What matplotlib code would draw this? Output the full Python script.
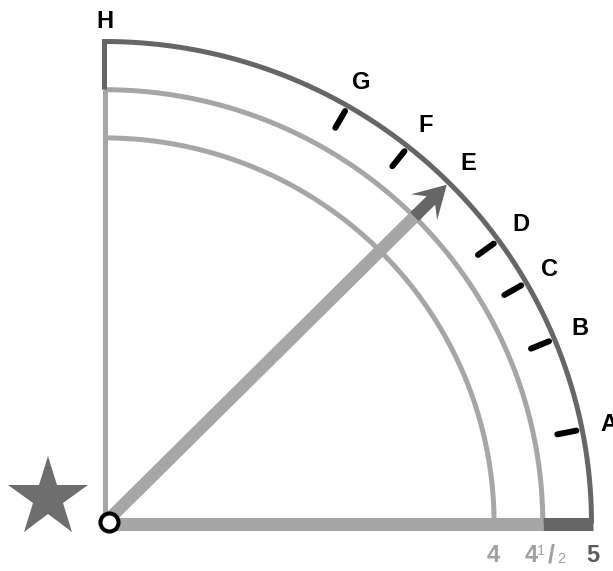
import numpy as np
import matplotlib
matplotlib.use("Agg")
import matplotlib.pyplot as plt
from matplotlib.patches import FancyArrow

# ---- data ----
labels = ["A", "B", "C", "D", "E", "F", "G", "H"]
angles_deg = [11.25, 22.5, 30.0, 36.0, 45.0, 51.43, 60.0, 90.0]
tick_labels = ["A", "B", "C", "D", "F", "G"]   # letters that carry a tick mark
radii_inner = [4.0, 4.5]
radius_outer = 5.0
arrow_angle = 45.0
arrow_len = 4.97
axis_values = [4.0, 4.5, 5.0]

LIGHT = "#a6a6a6"
DARK = "#666666"
FONT = "Liberation Sans"

fig = plt.figure(figsize=(6.13, 5.71), dpi=100)
ax = fig.add_axes([0, 0, 1, 1])
ax.set_xlim(-104.5 / 97.4, (613 - 104.5) / 97.4)
ax.set_ylim(-(571 - 523.5) / 96.4, 523.5 / 96.4)
ax.axis("off")

# inner arcs
th = np.linspace(0, np.pi / 2, 300)
for r in radii_inner:
    ax.plot(r * np.cos(th), r * np.sin(th), color=LIGHT, lw=3.6,
            solid_capstyle="butt", zorder=2)

# vertical light axis
ax.plot([0, 0], [0, 4.5], color=LIGHT, lw=3.6, solid_capstyle="butt", zorder=2)

# dark outer frame: vertical piece + outer arc
th2 = np.linspace(np.pi / 2, 0, 400)
xs = np.concatenate([[0, 0], radius_outer * np.cos(th2)])
ys = np.concatenate([[4.5, radius_outer], radius_outer * np.sin(th2)])
ax.plot(xs, ys, color=DARK, lw=3.6, solid_joinstyle="miter",
        solid_capstyle="butt", zorder=3)

# horizontal bar
ax.plot([0, 4.5], [0, 0], color=LIGHT, lw=9.4, solid_capstyle="butt", zorder=4)
ax.plot([4.5, radius_outer + 0.02], [0, 0], color=DARK, lw=9.4,
        solid_capstyle="butt", zorder=4)

# arrow
a = np.deg2rad(arrow_angle)
ax.plot([0, 4.55 * np.cos(a)], [0, 4.55 * np.sin(a)], color=LIGHT, lw=9,
        solid_capstyle="butt", zorder=5)
x0, y0 = 4.5 * np.cos(a), 4.5 * np.sin(a)
ax.add_patch(FancyArrow(x0, y0, (arrow_len - 4.5) * np.cos(a),
                        (arrow_len - 4.5) * np.sin(a), width=0.125,
                        head_width=0.38, head_length=0.33,
                        length_includes_head=True, overhang=0.3,
                        color=DARK, lw=0, zorder=6))

# tick marks and letters
for lab, ang in zip(labels, angles_deg):
    t = np.deg2rad(ang)
    if lab in tick_labels:
        ax.plot([4.74 * np.cos(t), 4.94 * np.cos(t)],
                [4.74 * np.sin(t), 4.94 * np.sin(t)],
                color="black", lw=4.3, solid_capstyle="round", zorder=7)
    rl = 5.21 if lab == "H" else 5.28
    ax.text(rl * np.cos(t), rl * np.sin(t), lab, fontsize=17,
            fontweight="bold", family=FONT, ha="center", va="center",
            color="black", zorder=8)

# origin circle
ax.plot([0.05], [0.015], marker="o", ms=13, mfc="white", mec="black",
        mew=2.9, zorder=9)

# star
ax.plot([-0.585], [0.265], marker="*", ms=60, color="#6e6e6e", mew=0,
        zorder=9)

# bottom value labels
ylab = -0.337
ax.text(axis_values[0] - 0.01, ylab, "4", fontsize=17, fontweight="bold",
        family=FONT, color="#a0a0a0", ha="center", va="center")
ax.text(axis_values[2] + 0.01, ylab, "5", fontsize=17, fontweight="bold",
        family=FONT, color="#5a5a5a", ha="center", va="center")
# 4 1/2
x45 = axis_values[1]
ax.annotate("4", xy=(x45, ylab), xytext=(-5.3, 0), textcoords="offset pixels",
            fontsize=17, fontweight="bold", family=FONT, color="#a0a0a0",
            ha="right", va="center")
ax.annotate("1", xy=(x45, ylab), xytext=(-2.3, 4.5), textcoords="offset pixels",
            fontsize=10.5, family=FONT, color="#a0a0a0",
            ha="center", va="center")
ax.annotate("/", xy=(x45, ylab), xytext=(8.2, 0), textcoords="offset pixels",
            fontsize=18, fontweight="bold", family=FONT, color="#a0a0a0",
            ha="center", va="center")
ax.annotate("2", xy=(x45, ylab), xytext=(18.7, -3.5), textcoords="offset pixels",
            fontsize=10.5, family=FONT, color="#a0a0a0",
            ha="center", va="center")

fig.savefig("out.png", dpi=100)
